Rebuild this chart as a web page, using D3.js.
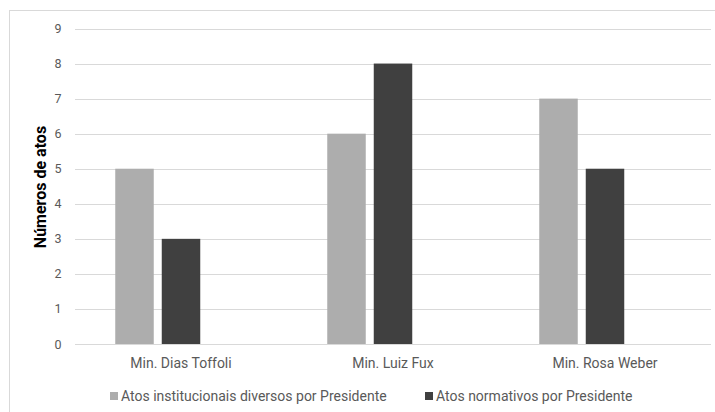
<!DOCTYPE html>
<html><head><meta charset="utf-8">
<script src="https://cdn.jsdelivr.net/npm/d3@7"></script>
<style>body{margin:0;background:#fff}svg{display:block}</style>
</head><body>
<svg id="c" width="715" height="412"></svg>
<script>
const categories = ["Min. Dias Toffoli", "Min. Luiz Fux", "Min. Rosa Weber"];
const seriesNames = ["Atos institucionais diversos por Presidente", "Atos normativos por Presidente"];
const institucionais = [5, 6, 7];
const normativos = [3, 8, 5];
const yTicks = [0,1,2,3,4,5,6,7,8,9];
const colors = ["#ADADAD", "#404040"];

const svg = d3.select("#c");
const font = "Roboto, 'Liberation Sans', sans-serif";

svg.append("rect").attr("x",9.5).attr("y",10.5).attr("width",720).attr("height",420)
  .attr("fill","#fff").attr("stroke","#D9D9D9").attr("stroke-width",1);

const x0 = d3.scaleBand().domain(categories).range([75, 711]);
const x1 = d3.scaleBand().domain([0,1,2]).range([40.25, 171.75]).paddingInner(0.172);
const y = d3.scaleLinear().domain([0, 9]).range([344, 28.5]);

// gridlines
svg.append("g").selectAll("line").data(yTicks).join("line")
  .attr("x1", 75).attr("x2", 711)
  .attr("y1", d => Math.round(y(d)) + 0.5).attr("y2", d => Math.round(y(d)) + 0.5)
  .attr("stroke", "#D9D9D9").attr("stroke-width", 1);

// y axis labels
const yAxis = d3.axisLeft(y).tickValues(yTicks).tickSize(0).tickPadding(0);
const gy = svg.append("g").attr("transform", "translate(61.5,0)").call(yAxis);
gy.select(".domain").remove();
gy.selectAll("text").attr("fill", "#595959").style("font-family", font).style("font-size", "12.5px");

// bars
const series = [institucionais, normativos];
series.forEach((vals, si) => {
  svg.append("g").selectAll("rect").data(categories).join("rect")
    .attr("x", (c) => x0(c) + x1(si))
    .attr("width", x1.bandwidth())
    .attr("y", (c, i) => y(vals[i]))
    .attr("height", (c, i) => y(0) - y(vals[i]))
    .attr("fill", colors[si]);
});

// x axis labels
const xAxis = d3.axisBottom(x0).tickSize(0).tickPadding(0);
const gx = svg.append("g").attr("transform", "translate(0,358)").call(xAxis);
gx.select(".domain").remove();
gx.selectAll("text").attr("fill", "#595959").style("font-family", font).style("font-size", "14px").attr("dy", "0.71em");

// axis title
svg.append("text").attr("transform", "translate(46,187) rotate(-90)")
  .attr("text-anchor", "middle").attr("fill", "#000")
  .style("font-family", "Roboto, 'Liberation Sans', sans-serif")
  .style("font-weight", "bold").style("font-size", "16px").text("Números de atos");

// legend
const legendX = [110, 425];
const lg = svg.append("g").selectAll("g").data(seriesNames).join("g")
  .attr("transform", (d, i) => `translate(${legendX[i]},392)`);
lg.append("rect").attr("width", 8).attr("height", 8).attr("fill", (d, i) => colors[i]);
lg.append("text").attr("x", 11).attr("y", 8.5).attr("fill", "#595959")
  .style("font-family", font).style("font-size", "14px").text(d => d);
</script>
</body></html>
